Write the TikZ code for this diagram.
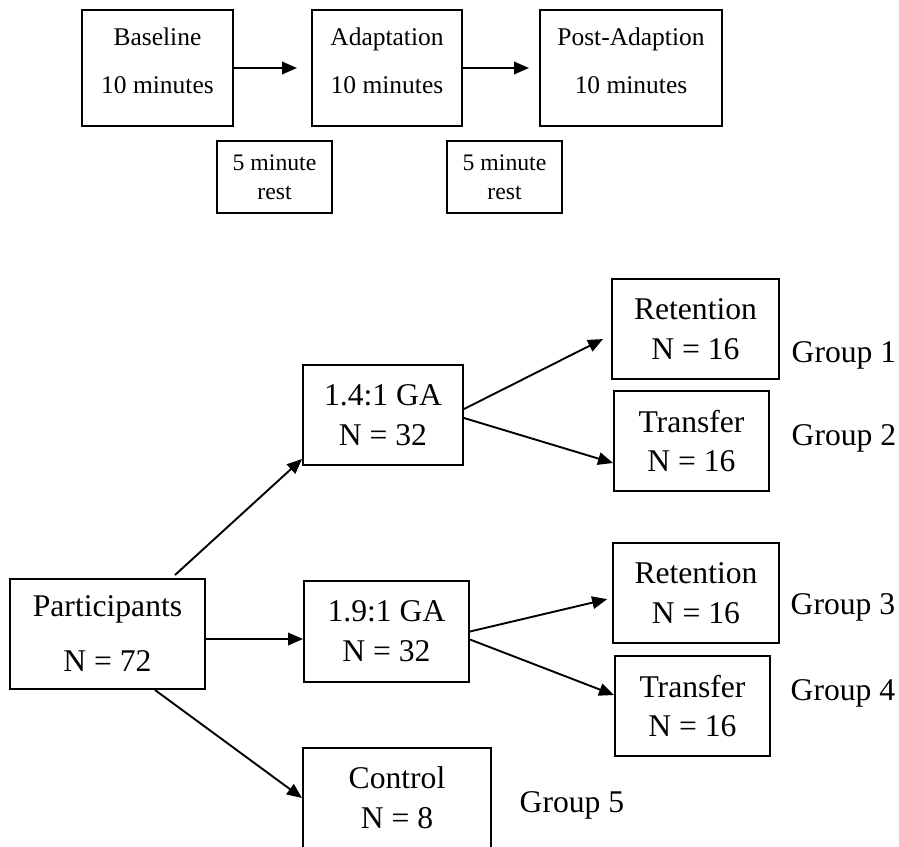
\documentclass[tikz,border=0pt]{standalone}
\usepackage{fontspec}
\setmainfont{Liberation Serif}
\usetikzlibrary{arrows.meta,calc}

\tikzset{
  stagebox/.style={shape=rectangle, draw=black, line width=0.04cm, minimum height=2.32cm, inner sep=0pt},
  stagetext/.style={align=center, inner sep=0pt, font=\fontsize{14.5}{27.3}\selectfont},
  restbox/.style={shape=rectangle, draw=black, line width=0.035cm, minimum width=2.3cm, minimum height=1.44cm, inner sep=0pt, align=center, font=\fontsize{13.5}{16.5}\selectfont},
  groupbox/.style={shape=rectangle, draw=black, line width=0.04cm, minimum height=2cm, inner sep=0pt, align=center, font=\fontsize{18}{22.6}\selectfont},
  grouplabel/.style={inner sep=0pt, font=\fontsize{18}{22}\selectfont},
}

\begin{document}
\begin{tikzpicture}
    [x=0.02cm, y=-0.02cm,
     >={Triangle[length=0.3cm, width=0.25cm]},  % filled arrow heads
     arr/.style={->, line width=0.038cm},
    ]

\path[use as bounding box, clip] (0,0) rectangle (899,846);

% session timeline
\node[stagebox, minimum width=3.02cm] (base) at (157.5,68) {};
\node[stagebox, minimum width=3.0cm] (adapt) at (387,68) {};
\node[stagebox, minimum width=3.64cm] (post) at (631,68) {};
\node[stagetext] (base-txt) at ([yshift=0.14cm]base.center) {Baseline\\10 minutes};
\node[stagetext] (adapt-txt) at ([yshift=0.14cm]adapt.center) {Adaptation\\10 minutes};
\node[stagetext] (post-txt) at ([yshift=0.14cm]post.center) {Post-Adaption\\10 minutes};
\node[restbox] (rest-a) at (274.5,177) {5 minute\\rest};
\node[restbox] (rest-b) at (504.5,177) {5 minute\\rest};
\draw[arr, shorten >=0.28cm] (base.east) -- (adapt.west);
\draw[arr, shorten >=0.2cm] (adapt.east) -- (post.west);

% group allocation
\node[groupbox, minimum width=3.9cm, minimum height=2.2cm, font=\fontsize{18}{31.3}\selectfont] (part) at (107.5,634) {Participants\\N = 72};
\node[groupbox, minimum width=3.2cm] (ga-a) at (383,415) {1.4:1 GA\\N = 32};
\node[groupbox, minimum width=3.3cm, minimum height=2.02cm] (ga-b) at (386.5,631.5) {1.9:1 GA\\N = 32};
\node[groupbox, minimum width=3.76cm] (ctrl) at (397,798) {Control\\N = 8};
\node[groupbox, minimum width=3.34cm] (ret-a) at (695.5,329) {Retention\\N = 16};
\node[groupbox, minimum width=3.1cm] (trans-a) at (691.5,441) {Transfer\\N = 16};
\node[groupbox, minimum width=3.32cm] (ret-b) at (696,593) {Retention\\N = 16};
\node[groupbox, minimum width=3.1cm] (trans-b) at (692.5,706) {Transfer\\N = 16};

\node[grouplabel] (grp-1) at (844,355) {Group 1};
\node[grouplabel] (grp-2) at (844,438) {Group 2};
\node[grouplabel] (grp-3) at (843,607) {Group 3};
\node[grouplabel] (grp-4) at (843,693) {Group 4};
\node[grouplabel] (grp-5) at (572,805) {Group 5};

\draw[arr] ([xshift=1.35cm, yshift=0.06cm]part.north) -- ([yshift=0.14cm]ga-a.south west);
\draw[arr] ([yshift=-0.1cm]part.east) -- ([yshift=-0.15cm]ga-b.west);
\draw[arr] ([xshift=0.95cm]part.south) -- ([yshift=0cm]ctrl.west);
\draw[arr, shorten >=0.18cm] ([yshift=0.12cm]ga-a.east) -- ([yshift=-0.12cm]ret-a.west);
\draw[arr] ([yshift=-0.06cm]ga-a.east) -- ([yshift=-0.44cm]trans-a.west);
\draw[arr, shorten >=0.1cm] (ga-b.east) -- ([yshift=-0.1cm]ret-b.west);
\draw[arr] ([yshift=-0.16cm]ga-b.east) -- ([yshift=0.22cm]trans-b.west);

\end{tikzpicture}
\end{document}
